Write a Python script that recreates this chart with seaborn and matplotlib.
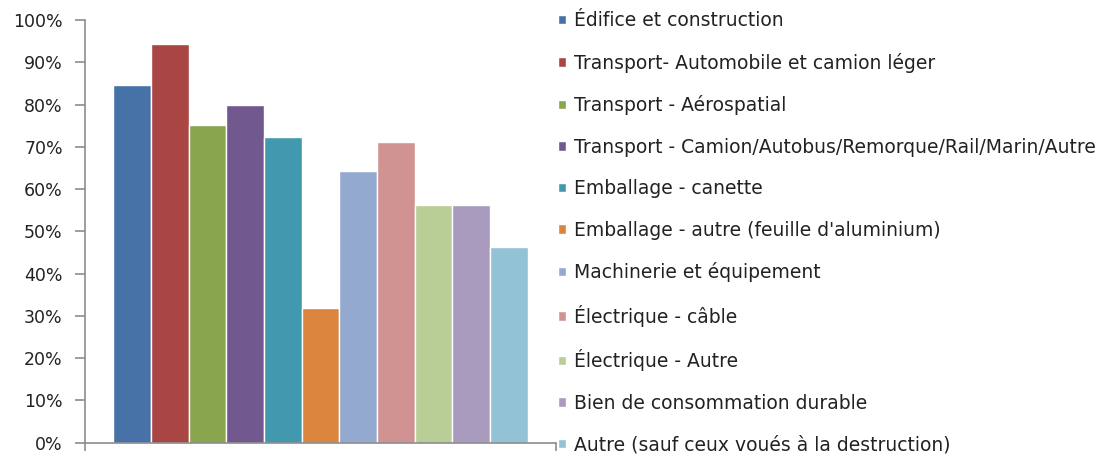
import pandas as pd
import matplotlib
matplotlib.use("Agg")
import matplotlib.pyplot as plt
from matplotlib.ticker import PercentFormatter
import seaborn as sns

# Series names (legend) and values, in %
categories = [
    "Édifice et construction",
    "Transport- Automobile et camion léger",
    "Transport - Aérospatial",
    "Transport - Camion/Autobus/Remorque/Rail/Marin/Autre",
    "Emballage - canette",
    "Emballage - autre (feuille d'aluminium)",
    "Machinerie et équipement",
    "Électrique - câble",
    "Électrique - Autre",
    "Bien de consommation durable",
    "Autre (sauf ceux voués à la destruction)",
]
values = [84.6, 94.3, 75.1, 79.8, 72.4, 31.9, 64.2, 71.1, 56.3, 56.3, 46.3]
colors = ["#4672A8", "#A94644", "#89A54E", "#71588F", "#4298AF", "#DB843D",
          "#93A9CF", "#D19392", "#B9CD96", "#A99BBD", "#92C3D4"]

df = pd.DataFrame({"groupe": [""] * len(categories),
                   "secteur": categories,
                   "valeur": values})

sns.set_style("white")
plt.rcParams["font.family"] = ["DejaVu Sans"]

fig = plt.figure(figsize=(11.19, 4.55), dpi=100)
ax = fig.add_axes([85 / 1119, 12.3 / 455, 471 / 1119, 422.7 / 455])

sns.barplot(data=df, x="groupe", y="valeur", hue="secteur", hue_order=categories,
            palette=colors, width=0.88, edgecolor="white", linewidth=1,
            saturation=1, ax=ax, legend=True)

ax.set_xlim(-0.5, 0.5)
ax.set_ylim(0, 100)
ax.set_yticks(range(0, 101, 10))
ax.yaxis.set_major_formatter(PercentFormatter(decimals=0))
ax.set_xticks([])
ax.set_xticks([-0.5, 0.5], minor=True)
ax.set_xlabel("")
ax.set_ylabel("")

for side in ["top", "right"]:
    ax.spines[side].set_visible(False)
for side in ["left", "bottom"]:
    ax.spines[side].set_color("#8c8c8c")
    ax.spines[side].set_linewidth(1.2)

ax.tick_params(axis="y", which="major", left=True, length=7, width=1.2,
               color="#8c8c8c", labelsize=12.5, labelcolor="#222222", pad=9)
ax.tick_params(axis="x", which="minor", bottom=True, length=6, width=1.2,
               color="#8c8c8c")

handles, labels = ax.get_legend_handles_labels()
ax.legend(handles, labels, loc="center left",
          bbox_to_anchor=(558 / 1119, 0.489), bbox_transform=fig.transFigure,
          frameon=False, fontsize=13.5, handlelength=0.4, handleheight=0.4,
          handletextpad=0.45, labelspacing=1.2, borderaxespad=0, borderpad=0,
          labelcolor="#222222")

fig.savefig("out.png", dpi=100)
